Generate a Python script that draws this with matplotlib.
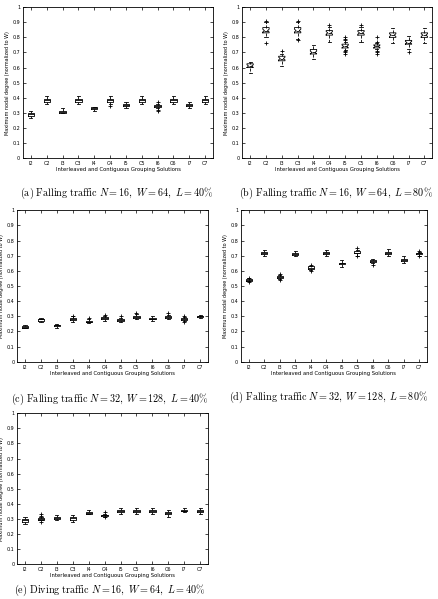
import matplotlib
matplotlib.use("Agg")
import matplotlib.pyplot as plt

plt.rcParams['mathtext.fontset'] = 'cm'

labels = ["I2", "C2", "I3", "C3", "I4", "C4", "I5", "C5", "I6", "C6", "I7", "C7"]

# per panel: median, q1, q3, whisker low, whisker high, outliers
a_med = [0.29, 0.385, 0.305, 0.385, 0.335, 0.385, 0.355, 0.385, 0.345, 0.385, 0.355, 0.385]
a_q1 = [0.28, 0.375, 0.300, 0.375, 0.325, 0.375, 0.345, 0.375, 0.340, 0.375, 0.345, 0.375]
a_q3 = [0.30, 0.390, 0.310, 0.390, 0.340, 0.390, 0.360, 0.390, 0.350, 0.390, 0.360, 0.390]
a_lo = [0.265, 0.36, 0.300, 0.36, 0.315, 0.36, 0.33, 0.36, 0.33, 0.36, 0.33, 0.36]
a_hi = [0.31, 0.41, 0.33, 0.41, 0.34, 0.41, 0.375, 0.41, 0.36, 0.41, 0.375, 0.41]
a_out = [[], [], [], [], [], [0.345], [], [], [0.31, 0.32, 0.37], [], [], []]

b_med = [0.61, 0.845, 0.66, 0.845, 0.70, 0.83, 0.74, 0.83, 0.74, 0.815, 0.765, 0.815]
b_q1 = [0.60, 0.83, 0.645, 0.83, 0.69, 0.815, 0.73, 0.815, 0.73, 0.80, 0.755, 0.80]
b_q3 = [0.625, 0.865, 0.675, 0.865, 0.72, 0.845, 0.755, 0.845, 0.75, 0.83, 0.78, 0.83]
b_lo = [0.565, 0.80, 0.61, 0.79, 0.66, 0.77, 0.715, 0.77, 0.72, 0.76, 0.72, 0.76]
b_hi = [0.64, 0.90, 0.69, 0.90, 0.75, 0.87, 0.77, 0.87, 0.76, 0.86, 0.81, 0.86]
b_out = [[], [0.765, 0.91], [0.71], [0.78, 0.91], [], [0.88],
         [0.69, 0.70, 0.71, 0.78, 0.79, 0.80], [0.88],
         [0.69, 0.70, 0.71, 0.77, 0.80], [], [0.705], []]

c_med = [0.23, 0.28, 0.24, 0.28, 0.265, 0.29, 0.275, 0.295, 0.285, 0.295, 0.28, 0.30]
c_q1 = [0.225, 0.272, 0.233, 0.275, 0.26, 0.28, 0.27, 0.29, 0.28, 0.29, 0.275, 0.295]
c_q3 = [0.235, 0.285, 0.245, 0.29, 0.27, 0.295, 0.28, 0.305, 0.29, 0.30, 0.29, 0.305]
c_lo = [0.22, 0.265, 0.225, 0.265, 0.255, 0.27, 0.265, 0.28, 0.27, 0.28, 0.27, 0.29]
c_hi = [0.24, 0.29, 0.25, 0.30, 0.28, 0.305, 0.29, 0.315, 0.30, 0.31, 0.295, 0.31]
c_out = [[], [], [], [0.305], [0.29], [0.31], [0.30], [0.32], [], [0.32], [0.265, 0.30], []]

d_med = [0.54, 0.72, 0.56, 0.71, 0.62, 0.72, 0.65, 0.72, 0.665, 0.72, 0.67, 0.715]
d_q1 = [0.535, 0.71, 0.555, 0.705, 0.615, 0.71, 0.645, 0.715, 0.66, 0.71, 0.665, 0.71]
d_q3 = [0.545, 0.725, 0.565, 0.72, 0.63, 0.725, 0.655, 0.73, 0.675, 0.725, 0.68, 0.72]
d_lo = [0.53, 0.70, 0.545, 0.70, 0.605, 0.695, 0.625, 0.70, 0.65, 0.695, 0.65, 0.70]
d_hi = [0.55, 0.74, 0.575, 0.73, 0.635, 0.74, 0.67, 0.74, 0.68, 0.745, 0.70, 0.725]
d_out = [[0.525, 0.555], [], [0.54, 0.58], [], [0.60, 0.64], [], [], [0.695, 0.75],
         [0.64], [], [], [0.695, 0.73]]

e_med = [0.29, 0.30, 0.305, 0.305, 0.34, 0.325, 0.355, 0.355, 0.355, 0.34, 0.355, 0.355]
e_q1 = [0.28, 0.295, 0.30, 0.295, 0.335, 0.322, 0.345, 0.345, 0.345, 0.33, 0.35, 0.345]
e_q3 = [0.30, 0.305, 0.315, 0.315, 0.345, 0.328, 0.36, 0.36, 0.36, 0.345, 0.36, 0.36]
e_lo = [0.265, 0.29, 0.29, 0.28, 0.33, 0.315, 0.33, 0.33, 0.33, 0.315, 0.345, 0.33]
e_hi = [0.31, 0.31, 0.325, 0.325, 0.36, 0.335, 0.37, 0.37, 0.37, 0.36, 0.37, 0.37]
e_out = [[], [0.28, 0.32, 0.33], [], [], [], [0.31, 0.345], [], [], [], [], [], []]

captions = [
    r"$\mathrm{(a)\ Falling\ traffic}\ N = 16,\ W = 64,\ L = 40\%$",
    r"$\mathrm{(b)\ Falling\ traffic}\ N = 16,\ W = 64,\ L = 80\%$",
    r"$\mathrm{(c)\ Falling\ traffic}\ N = 32,\ W = 128,\ L = 40\%$",
    r"$\mathrm{(d)\ Falling\ traffic}\ N = 32,\ W = 128,\ L = 80\%$",
    r"$\mathrm{(e)\ Diving\ traffic}\ N = 16,\ W = 64,\ L = 40\%$",
]

panels = [
    (a_med, a_q1, a_q3, a_lo, a_hi, a_out, False),
    (b_med, b_q1, b_q3, b_lo, b_hi, b_out, True),
    (c_med, c_q1, c_q3, c_lo, c_hi, c_out, False),
    (d_med, d_q1, d_q3, d_lo, d_hi, d_out, False),
    (e_med, e_q1, e_q3, e_lo, e_hi, e_out, False),
]

# axes rectangles and caption positions (figure fractions)
rects = [
    [0.0525, 0.736, 0.434, 0.252],
    [0.553, 0.736, 0.434, 0.252],
    [0.039, 0.396, 0.436, 0.253],
    [0.550, 0.396, 0.425, 0.253],
    [0.039, 0.058, 0.436, 0.252],
]
cap_pos = [(0.267, 0.678), (0.767, 0.678), (0.25, 0.334), (0.75, 0.337), (0.25, 0.014)]

fig = plt.figure(figsize=(4.38, 5.99), dpi=100)

for (med, q1, q3, lo, hi, out, notch), rect, cap, cp in zip(panels, rects, captions, cap_pos):
    ax = fig.add_axes(rect)
    stats = []
    for i in range(len(labels)):
        s = dict(med=med[i], q1=q1[i], q3=q3[i], whislo=lo[i], whishi=hi[i],
                 fliers=out[i], label=labels[i])
        if notch:
            s["cilo"] = med[i] - 0.009
            s["cihi"] = med[i] + 0.009
        stats.append(s)
    ax.bxp(stats, shownotches=notch, widths=0.4,
           boxprops=dict(color="black", linewidth=0.6),
           medianprops=dict(color="black", linewidth=0.6),
           whiskerprops=dict(color="black", linewidth=0.6, linestyle="--"),
           capprops=dict(color="black", linewidth=0.6),
           flierprops=dict(marker="+", markeredgecolor="black", markersize=3,
                           markeredgewidth=0.6))
    ax.set_xlim(0.5, 12.5)
    ax.set_ylim(0, 1)
    ax.set_yticks([i / 10 for i in range(11)])
    ax.set_yticklabels(["0", "0.1", "0.2", "0.3", "0.4", "0.5", "0.6", "0.7", "0.8", "0.9", "1"])
    ax.tick_params(direction="in", top=True, right=True, labelsize=3.5,
                   length=2, width=0.5, pad=2)
    for sp in ax.spines.values():
        sp.set_linewidth(0.6)
    ax.set_xlabel("Interleaved and Contiguous Grouping Solutions", fontsize=3.8, labelpad=1)
    ax.set_ylabel("Maximum nodal degree (normalized to W)", fontsize=3.5, labelpad=2)
    fig.text(cp[0], cp[1], cap, ha="center", va="center", fontsize=7.3)

fig.savefig("out.png", dpi=100)
